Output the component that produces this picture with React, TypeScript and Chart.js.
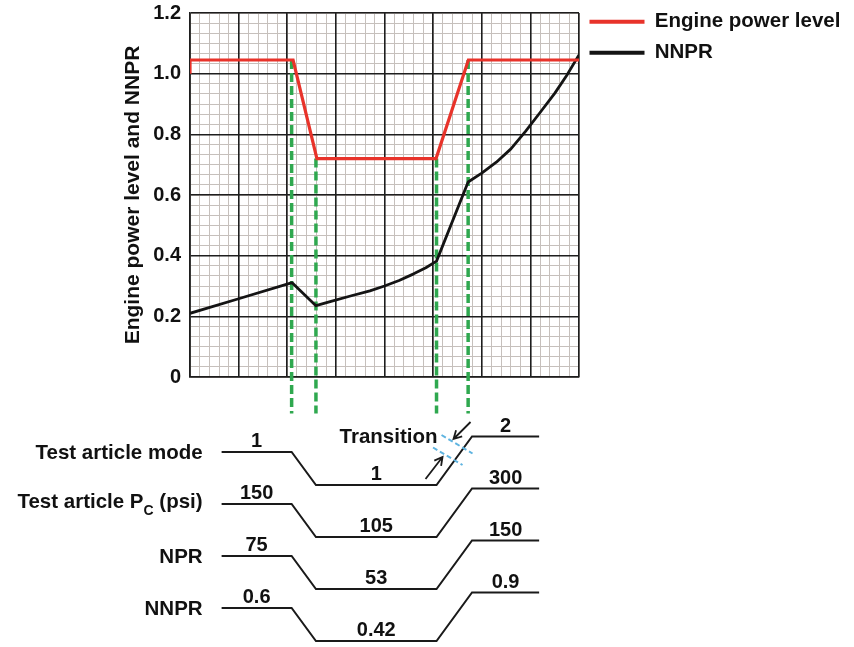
import React, { useEffect, useRef } from 'react';
import { Chart, registerables } from 'chart.js';

Chart.register(...registerables);

const FONT = "'Liberation Sans', Arial, Helvetica, sans-serif";

// ---------- Upper plot data ----------
const seriesNames = ['Engine power level', 'NNPR'];
const seriesColors = ['#e8332a', '#141414'];

const powerTime = [0, 0, 2.12, 2.61, 5.06, 5.725, 8];
const powerLevel = [1.0, 1.045, 1.045, 0.72, 0.72, 1.045, 1.045];

const nnprTime = [0, 1, 2.1, 2.59, 2.9, 3.3, 3.7, 4.0, 4.3, 4.6, 4.85, 5.07, 5.72, 6.0, 6.3, 6.6, 6.9, 7.2, 7.5, 7.75, 8.0];
const nnprValue = [0.21, 0.258, 0.311, 0.235, 0.249, 0.267, 0.284, 0.3, 0.318, 0.34, 0.36, 0.382, 0.643, 0.672, 0.708, 0.752, 0.81, 0.872, 0.935, 0.995, 1.062];

// Event markers (green dashed verticals)
const eventTime = [2.09, 2.59, 5.07, 5.72];
const eventTop = [1.045, 0.72, 0.72, 1.045];
const eventBottom = -0.12;

const yTickLabels = ['0', '0.2', '0.4', '0.6', '0.8', '1.0', '1.2'];

// ---------- Lower schematic data ----------
const rowName = ['Test article mode', 'Test article P', 'NPR', 'NNPR'];
const rowSub = ['', 'C', '', ''];
const rowSuffix = ['', ' (psi)', '', ''];
const valuesBefore = ['1', '150', '75', '0.6'];
const valuesDuring = ['1', '105', '53', '0.42'];
const valuesAfter = ['2', '300', '150', '0.9'];
// start, fall start, fall end, rise start, rise end, end
const schematicTime = [0.65, 2.09, 2.59, 5.07, 5.8, 7.18];
const transitionLabel = 'Transition';

// ---------- layout constants ----------
const W = 854;
const H = 647;
const PLOT_RIGHT = 579;
const LEG_FONT = 20.5;
const LEG_PAD = 10.5;
const LEG_BOX = 55;

function arrow(ctx: CanvasRenderingContext2D, x1: number, y1: number, x2: number, y2: number) {
  const ang = Math.atan2(y2 - y1, x2 - x1);
  const len = 9;
  const spread = 0.5;
  ctx.beginPath();
  ctx.moveTo(x1, y1);
  ctx.lineTo(x2, y2);
  ctx.moveTo(x2 - len * Math.cos(ang - spread), y2 - len * Math.sin(ang - spread));
  ctx.lineTo(x2, y2);
  ctx.lineTo(x2 - len * Math.cos(ang + spread), y2 - len * Math.sin(ang + spread));
  ctx.stroke();
}

const schematicPlugin = {
  id: 'schematic',
  afterDraw(chart: any) {
    const ctx: CanvasRenderingContext2D = chart.ctx;
    const xs = chart.scales.x;
    const px = schematicTime.map((t) => xs.getPixelForValue(t));
    const firstBase = chart.chartArea.bottom + 75;
    const rowGap = 52;
    const drop = 33;
    const riseAbove = 15.5;
    ctx.save();
    rowName.forEach((name, i) => {
      const base = firstBase + i * rowGap;
      const low = base + drop;
      const high = base - riseAbove;
      ctx.strokeStyle = '#1a1a1a';
      ctx.lineWidth = 2;
      ctx.lineJoin = 'miter';
      ctx.beginPath();
      ctx.moveTo(px[0], base);
      ctx.lineTo(px[1], base);
      ctx.lineTo(px[2], low);
      ctx.lineTo(px[3], low);
      ctx.lineTo(px[4], high);
      ctx.lineTo(px[5], high);
      ctx.stroke();

      ctx.fillStyle = '#111';
      ctx.font = `bold 20px ${FONT}`;
      ctx.textAlign = 'center';
      ctx.textBaseline = 'alphabetic';
      ctx.fillText(valuesBefore[i], (px[0] + px[1]) / 2, base - 5);
      ctx.fillText(valuesDuring[i], (px[2] + px[3]) / 2, low - 5);
      ctx.fillText(valuesAfter[i], (px[4] + px[5]) / 2, high - 5);

      // row label (right aligned)
      const right = px[0] - 19;
      const mainFont = `bold 20.5px ${FONT}`;
      const subFont = `bold 14px ${FONT}`;
      ctx.textAlign = 'left';
      if (rowSub[i]) {
        ctx.font = mainFont;
        const w1 = ctx.measureText(name).width;
        const w3 = ctx.measureText(rowSuffix[i]).width;
        ctx.font = subFont;
        const w2 = ctx.measureText(rowSub[i]).width;
        const x0 = right - (w1 + w2 + w3);
        const bl = base + 4;
        ctx.font = mainFont;
        ctx.fillText(name, x0, bl);
        ctx.fillText(rowSuffix[i], x0 + w1 + w2, bl);
        ctx.font = subFont;
        ctx.fillText(rowSub[i], x0 + w1, bl + 7);
      } else {
        ctx.font = mainFont;
        ctx.textAlign = 'right';
        ctx.fillText(name + rowSuffix[i], right, base + 7);
      }
    });

    // Transition annotation around the first row's rise
    const ax = px[3];
    const ay = firstBase + drop;
    ctx.font = `bold 20.5px ${FONT}`;
    ctx.textAlign = 'right';
    ctx.fillStyle = '#111';
    ctx.fillText(transitionLabel, ax + 1, ay - 42);

    ctx.strokeStyle = '#5fb4e0';
    ctx.lineWidth = 2;
    ctx.setLineDash([5, 3]);
    ctx.beginPath();
    ctx.moveTo(ax + 5, ay - 50);
    ctx.lineTo(ax + 36, ay - 31.5);
    ctx.moveTo(ax - 3.5, ay - 37.5);
    ctx.lineTo(ax + 26, ay - 20);
    ctx.stroke();
    ctx.setLineDash([]);

    ctx.strokeStyle = '#1a1a1a';
    ctx.lineWidth = 1.8;
    arrow(ctx, ax + 34, ay - 63, ax + 17, ay - 46);
    arrow(ctx, ax - 11, ay - 6, ax + 6, ay - 28);
    ctx.restore();
  },
};

export default function App() {
  const ref = useRef<HTMLCanvasElement>(null);

  useEffect(() => {
    const canvas = ref.current;
    if (!canvas) return;

    Chart.defaults.font.family = FONT;

    const mctx = document.createElement('canvas').getContext('2d')!;
    mctx.font = `bold ${LEG_FONT}px ${FONT}`;
    const tw = Math.max(...seriesNames.map((n) => mctx.measureText(n).width));
    const legendW = LEG_PAD + LEG_BOX + LEG_FONT / 2 + tw + 10;
    const padRight = Math.max(0, W - PLOT_RIGHT - legendW);

    const eventSets = eventTime.map((t, i) => ({
      label: 'event' + i,
      data: [
        { x: t, y: eventTop[i] },
        { x: t, y: eventBottom },
      ],
      borderColor: '#2fa84f',
      borderWidth: 3.5,
      borderDash: [9, 4],
      pointRadius: 0,
      clip: false,
      order: 2,
      xAxisID: 'x',
      yAxisID: 'y',
    }));

    const chart = new Chart(canvas, {
      type: 'line',
      data: {
        datasets: [
          {
            label: seriesNames[0],
            data: powerTime.map((t, i) => ({ x: t, y: powerLevel[i] })),
            borderColor: seriesColors[0],
            backgroundColor: seriesColors[0],
            borderWidth: 3.2,
            pointRadius: 0,
            tension: 0,
            order: 0,
            xAxisID: 'x',
            yAxisID: 'y',
          },
          {
            label: seriesNames[1],
            data: nnprTime.map((t, i) => ({ x: t, y: nnprValue[i] })),
            borderColor: seriesColors[1],
            backgroundColor: seriesColors[1],
            borderWidth: 2.8,
            pointRadius: 0,
            tension: 0,
            borderJoinStyle: 'round',
            order: 1,
            xAxisID: 'x',
            yAxisID: 'y',
          },
          ...eventSets,
        ] as any,
      },
      options: {
        responsive: false,
        animation: false,
        devicePixelRatio: 1,
        events: [],
        layout: { padding: { top: 1, left: 0, right: padRight, bottom: 270 } },
        plugins: {
          tooltip: { enabled: false },
          legend: {
            display: true,
            position: 'right',
            align: 'start',
            maxWidth: 400,
            labels: {
              boxWidth: LEG_BOX,
              boxHeight: 4,
              padding: LEG_PAD,
              font: { family: FONT, size: LEG_FONT, weight: 'bold' },
              color: '#111',
              generateLabels: () =>
                seriesNames.map((n, i) => ({
                  text: n,
                  fillStyle: seriesColors[i],
                  strokeStyle: seriesColors[i],
                  lineWidth: 0,
                  hidden: false,
                  datasetIndex: i,
                  fontColor: '#111',
                })),
            },
          },
        },
        scales: {
          xMinor: {
            type: 'linear',
            position: 'bottom',
            min: 0,
            max: 8,
            ticks: { display: false, stepSize: 0.2 },
            grid: { color: '#c6c0bc', lineWidth: 1, drawTicks: false, z: -2 },
            border: { display: false },
          },
          yMinor: {
            type: 'linear',
            position: 'left',
            min: 0,
            max: 1.2,
            ticks: { display: false, stepSize: 0.2 / 6 },
            grid: { color: '#c6c0bc', lineWidth: 1, drawTicks: false, z: -2 },
            border: { display: false },
          },
          x: {
            type: 'linear',
            position: 'bottom',
            min: 0,
            max: 8,
            ticks: { display: false, stepSize: 1 },
            grid: { color: '#1e1e1e', lineWidth: 1.6, drawTicks: false, z: -1 },
            border: { display: true, color: '#1e1e1e', width: 1.6 },
          },
          y: {
            type: 'linear',
            position: 'left',
            min: 0,
            max: 1.2,
            afterFit: (scale: any) => {
              scale.width = 190;
            },
            ticks: {
              stepSize: 0.2,
              padding: 9,
              color: '#111',
              autoSkip: false,
              font: { family: FONT, size: 20, weight: 'bold', lineHeight: '8px' },
              callback: (v: any) => yTickLabels[Math.round(Number(v) / 0.2)] ?? '',
            },
            grid: { color: '#1e1e1e', lineWidth: 1.6, drawTicks: false, z: -1 },
            border: { display: true, color: '#1e1e1e', width: 1.6 },
            title: {
              display: true,
              text: 'Engine power level and NNPR',
              color: '#111',
              font: { family: FONT, size: 21, weight: 'bold' },
              padding: { top: 121, bottom: 0 },
            },
          },
        },
      } as any,
      plugins: [schematicPlugin],
    });

    return () => chart.destroy();
  }, []);

  return (
    <div style={{ position: 'absolute', left: 0, top: 0, width: W, height: H, background: '#fff' }}>
      <canvas ref={ref} width={W} height={H} style={{ display: 'block', width: W, height: H }} />
    </div>
  );
}
